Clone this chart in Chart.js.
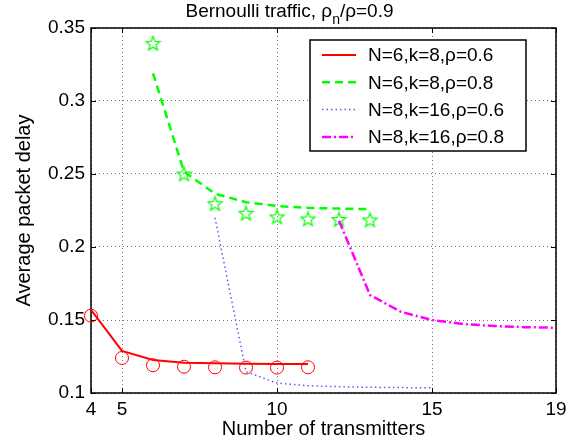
<!DOCTYPE html>
<html>
<head>
<meta charset="utf-8">
<title>Average packet delay</title>
<script src="https://cdn.jsdelivr.net/npm/chart.js@4.4.0/dist/chart.umd.min.js"></script>
<style>
  html, body { margin: 0; padding: 0; background: #fff; }
  #wrap { width: 579px; height: 444px; }
</style>
</head>
<body>
<div id="wrap"><canvas id="delay_chart" width="579" height="444"></canvas></div>
<script>
// ----------------------- data -----------------------

const xTicks = [4, 5, 10, 15, 19];
const yTicks = [0.1, 0.15, 0.2, 0.25, 0.3, 0.35];

// N=6, k=8, rho=0.6 (analysis line + simulation circles)
const txN6Rho06 = [4, 5, 6, 7, 8, 9, 10, 11];
const delayN6Rho06 = [0.157, 0.1288, 0.1226, 0.1208, 0.1203, 0.1200, 0.1199, 0.1198];
const simN6Rho06 = [0.153, 0.124, 0.119, 0.118, 0.1176, 0.1174, 0.1174, 0.1176];

// N=6, k=8, rho=0.8 (analysis line + simulation stars)
const txN6Rho08 = [6, 7, 8, 9, 10, 11, 12, 13];
const delayN6Rho08 = [0.319, 0.2516, 0.2365, 0.2307, 0.2281, 0.2268, 0.2263, 0.226];
const simN6Rho08 = [0.3395, 0.25, 0.2297, 0.2231, 0.2206, 0.2192, 0.2188, 0.2185];

// N=8, k=16
const txN8Rho06 = [8, 9, 10, 11, 12, 13, 14, 15];
const delayN8Rho06 = [0.22, 0.1146, 0.1068, 0.1050, 0.1043, 0.1039, 0.1037, 0.1035];
const txN8Rho08 = [12, 13, 14, 15, 16, 17, 18, 19];
const delayN8Rho08 = [0.218, 0.1671, 0.1556, 0.150, 0.1473, 0.1459, 0.1451, 0.1447];

const seriesLabels = ["N=6,k=8,ρ=0.6", "N=6,k=8,ρ=0.8", "N=8,k=16,ρ=0.6", "N=8,k=16,ρ=0.8"];

// ----------------------- helpers -----------------------

const FONT = "'Liberation Sans', Arial, Helvetica, sans-serif";

function pairs(xs, ys) {
    return xs.map((x, i) => ({ x: x, y: ys[i] }));
}

// five point star outline, used as point style for the rho=0.8 simulation
function makeStar(color, size) {
    const c = document.createElement("canvas");
    c.width = size;
    c.height = size;
    const g = c.getContext("2d");
    const cx = size / 2, cy = size / 2 + 0.5;
    const outer = size / 2 - 1, inner = outer * 0.42;
    g.beginPath();
    for (let i = 0; i < 10; i++) {
        const r = i % 2 === 0 ? outer : inner;
        const a = -Math.PI / 2 + i * Math.PI / 5;
        const px = cx + r * Math.cos(a), py = cy + r * Math.sin(a);
        if (i === 0) g.moveTo(px, py); else g.lineTo(px, py);
    }
    g.closePath();
    g.strokeStyle = color;
    g.lineWidth = 1.2;
    g.stroke();
    return c;
}

// ----------------------- plugins -----------------------

// axes box with inward tick marks
const framePlugin = {
    id: "frame",
    beforeDatasetsDraw(chart) {
        const { ctx, chartArea: a, scales } = chart;
        const tl = 5;
        ctx.save();
        ctx.strokeStyle = "#000";
        ctx.lineWidth = 1.5;
        ctx.strokeRect(a.left, a.top, a.right - a.left, a.bottom - a.top);
        ctx.lineWidth = 1;
        ctx.beginPath();
        xTicks.forEach(v => {
            const px = Math.round(scales.x.getPixelForValue(v)) + 0.5;
            ctx.moveTo(px, a.bottom); ctx.lineTo(px, a.bottom - tl);
            ctx.moveTo(px, a.top); ctx.lineTo(px, a.top + tl);
        });
        yTicks.forEach(v => {
            const py = Math.round(scales.y.getPixelForValue(v)) + 0.5;
            ctx.moveTo(a.left, py); ctx.lineTo(a.left + tl, py);
            ctx.moveTo(a.right, py); ctx.lineTo(a.right - tl, py);
        });
        ctx.stroke();
        ctx.restore();
    }
};

// boxed legend in the upper right corner, line datasets only
const boxLegendPlugin = {
    id: "boxLegend",
    afterDraw(chart) {
        const { ctx, chartArea: a } = chart;
        const lines = chart.data.datasets.filter(d => d.inLegend);
        ctx.save();
        ctx.font = "19px " + FONT;
        const textW = Math.max(...lines.map(d => ctx.measureText(d.label).width));
        const w = 58 + textW + 22;
        const h = 111;
        const right = a.right - 30;
        const left = right - w;
        const top = a.top + 12;
        ctx.fillStyle = "#fff";
        ctx.fillRect(left, top, w, h);
        ctx.strokeStyle = "#000";
        ctx.lineWidth = 1.5;
        ctx.strokeRect(left, top, w, h);
        lines.forEach((d, i) => {
            const y = top + 15 + i * 27.3;
            ctx.beginPath();
            ctx.setLineDash(d.borderDash || []);
            ctx.strokeStyle = d.borderColor;
            ctx.lineWidth = d.borderWidth;
            ctx.moveTo(left + 12, y);
            ctx.lineTo(left + 46, y);
            ctx.stroke();
            ctx.setLineDash([]);
            ctx.fillStyle = "#000";
            ctx.textBaseline = "middle";
            ctx.textAlign = "left";
            ctx.fillText(d.label, left + 58, y + 1);
        });
        ctx.restore();
    }
};

// title with a subscript
const subTitlePlugin = {
    id: "subTitle",
    afterDraw(chart) {
        const ctx = chart.ctx;
        const parts = [
            { t: "Bernoulli traffic, ρ", size: 19, dy: 0 },
            { t: "n", size: 14, dy: 7 },
            { t: "/ρ=0.9", size: 19, dy: 0 }
        ];
        ctx.save();
        ctx.fillStyle = "#000";
        ctx.textBaseline = "alphabetic";
        ctx.textAlign = "left";
        let total = 0;
        parts.forEach(p => {
            ctx.font = p.size + "px " + FONT;
            p.w = ctx.measureText(p.t).width;
            total += p.w;
        });
        let x = chart.width / 2 - total / 2;
        parts.forEach(p => {
            ctx.font = p.size + "px " + FONT;
            ctx.fillText(p.t, x, 17 + p.dy);
            x += p.w;
        });
        ctx.restore();
    }
};

// ----------------------- chart -----------------------

const starImg = makeStar("#00ff00", 17);

const ctx = document.getElementById("delay_chart");

new Chart(ctx, {
    type: "line",
    data: {
        datasets: [
            {
                label: seriesLabels[0],
                inLegend: true,
                data: pairs(txN6Rho06, delayN6Rho06),
                borderColor: "#ff0000",
                borderWidth: 2,
                pointRadius: 0
            },
            {
                label: seriesLabels[1],
                inLegend: true,
                data: pairs(txN6Rho08, delayN6Rho08),
                borderColor: "#00ff00",
                borderWidth: 2.5,
                borderDash: [8, 5],
                pointRadius: 0
            },
            {
                label: seriesLabels[2],
                inLegend: true,
                data: pairs(txN8Rho06, delayN8Rho06),
                borderColor: "rgb(90,90,255)",
                borderWidth: 1.5,
                borderDash: [1.5, 3],
                pointRadius: 0
            },
            {
                label: seriesLabels[3],
                inLegend: true,
                data: pairs(txN8Rho08, delayN8Rho08),
                borderColor: "#ff00ff",
                borderWidth: 2.5,
                borderDash: [9, 3, 2, 3],
                pointRadius: 0
            },
            {
                label: "sim N=6,k=8,ρ=0.6",
                data: pairs(txN6Rho06, simN6Rho06),
                showLine: false,
                pointStyle: "circle",
                pointRadius: 6.5,
                pointBorderColor: "#ff0000",
                pointBackgroundColor: "rgba(0,0,0,0)",
                pointBorderWidth: 1,
                borderColor: "#ff0000",
                clip: false
            },
            {
                label: "sim N=6,k=8,ρ=0.8",
                data: pairs(txN6Rho08, simN6Rho08),
                showLine: false,
                pointStyle: starImg,
                pointRadius: 8,
                borderColor: "#00ff00",
                clip: false
            }
        ]
    },
    options: {
        responsive: false,
        animation: false,
        devicePixelRatio: 1,
        layout: { padding: { top: 28, right: 23, bottom: 0, left: 0 } },
        elements: { line: { tension: 0, fill: false } },
        plugins: {
            legend: { display: false },
            title: { display: false },
            tooltip: { enabled: false }
        },
        events: [],
        scales: {
            x: {
                type: "linear",
                min: 4,
                max: 19,
                afterBuildTicks: scale => { scale.ticks = xTicks.map(v => ({ value: v })); },
                afterFit: scale => { scale.height = 51; },
                ticks: {
                    color: "#000",
                    padding: 5,
                    font: { family: FONT, size: 19 },
                    maxRotation: 0,
                    autoSkip: false
                },
                grid: { color: "rgba(0,0,0,0.55)", lineWidth: 1, drawTicks: false },
                border: { display: false, dash: [1, 3] },
                title: {
                    display: true,
                    text: "Number of transmitters",
                    color: "#000",
                    font: { family: FONT, size: 20 },
                    padding: { top: 0, bottom: 3 }
                }
            },
            y: {
                type: "linear",
                min: 0.1,
                max: 0.35,
                afterBuildTicks: scale => { scale.ticks = yTicks.map(v => ({ value: v })); },
                afterFit: scale => { scale.width = 91; },
                ticks: {
                    color: "#000",
                    padding: 6,
                    font: { family: FONT, size: 19 },
                    callback: v => String(v)
                },
                grid: { color: "rgba(0,0,0,0.55)", lineWidth: 1, drawTicks: false },
                border: { display: false, dash: [1, 3] },
                title: {
                    display: true,
                    text: "Average packet delay",
                    color: "#000",
                    font: { family: FONT, size: 20 },
                    padding: { top: 12, bottom: 0 }
                }
            }
        }
    },
    plugins: [framePlugin, boxLegendPlugin, subTitlePlugin]
});
</script>
</body>
</html>
